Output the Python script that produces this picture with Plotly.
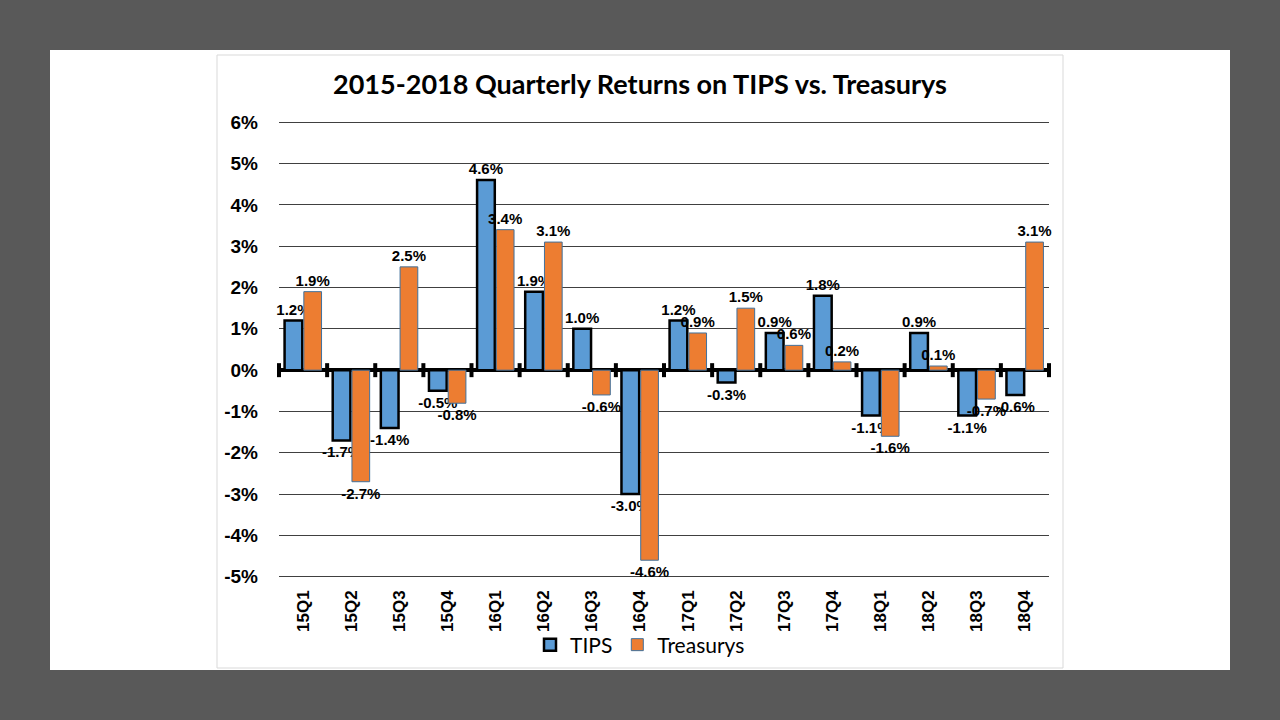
import plotly.graph_objects as go

quarters = ['15Q1', '15Q2', '15Q3', '15Q4', '16Q1', '16Q2', '16Q3', '16Q4',
            '17Q1', '17Q2', '17Q3', '17Q4', '18Q1', '18Q2', '18Q3', '18Q4']
tips = [1.2, -1.7, -1.4, -0.5, 4.6, 1.9, 1.0, -3.0,
        1.2, -0.3, 0.9, 1.8, -1.1, 0.9, -1.1, -0.6]
treasurys = [1.9, -2.7, 2.5, -0.8, 3.4, 3.1, -0.6, -4.6,
             0.9, 1.5, 0.6, 0.2, -1.6, 0.1, -0.7, 3.1]
yticks = [-5, -4, -3, -2, -1, 0, 1, 2, 3, 4, 5, 6]

W, H = 1280, 720
xpos = list(range(len(quarters)))

def px(x):
    return x / W

def py(y):
    return 1 - y / H

label_font = dict(family='Liberation Sans', size=15, color='black', weight='bold')

fig = go.Figure()
fig.add_trace(go.Bar(
    x=xpos, y=tips, name='TIPS',
    marker=dict(color='#5B9BD5', line=dict(color='black', width=2.5)),
    texttemplate='%{y:.1f}%', textposition='outside', textfont=label_font,
    cliponaxis=False, constraintext='none',
))
fig.add_trace(go.Bar(
    x=xpos, y=treasurys, name='Treasurys',
    marker=dict(color='#ED7D31', line=dict(color='#41719C', width=1)),
    texttemplate='%{y:.1f}%', textposition='outside', textfont=label_font,
    cliponaxis=False, constraintext='none',
))
# tick marks on the zero line at category boundaries
bounds = [i - 0.5 for i in range(len(quarters) + 1)]
fig.add_trace(go.Scatter(
    x=bounds, y=[0] * len(bounds), mode='markers', showlegend=False,
    marker=dict(symbol='line-ns', size=10, line=dict(color='black', width=4)),
    hoverinfo='skip', cliponaxis=False,
))

fig.update_layout(
    width=W, height=H,
    margin=dict(l=0, r=0, t=0, b=0, autoexpand=False),
    paper_bgcolor='#595959',
    plot_bgcolor='rgba(0,0,0,0)',
    barmode='group', bargap=0.2, bargroupgap=0.08,
    font=dict(family='Liberation Sans', color='black'),
    title=dict(text='<b>2015-2018 Quarterly Returns on TIPS vs. Treasurys</b>',
               x=0.5, xanchor='center', y=py(85), yanchor='middle',
               font=dict(family='Lato', size=27, color='black')),
    legend=dict(orientation='h', x=0.5, xanchor='center', y=py(645), yanchor='middle',
                font=dict(family='Lato', size=21, color='black'),
                itemwidth=30, bgcolor='rgba(0,0,0,0)', traceorder='normal'),
    shapes=[
        dict(type='rect', xref='paper', yref='paper', x0=px(50), x1=px(1230),
             y0=py(670), y1=py(50), fillcolor='white', line=dict(width=0), layer='below'),
        dict(type='rect', xref='paper', yref='paper', x0=px(217), x1=px(1063),
             y0=py(668), y1=py(55), fillcolor='white', line=dict(color='#D9D9D9', width=1),
             layer='below'),
    ],
)
fig.update_xaxes(
    domain=[px(279), px(1049)], range=[-0.5, len(quarters) - 0.5],
    tickvals=xpos, ticktext=quarters, tickangle=-90, automargin=False,
    showgrid=False, zeroline=False, showline=False, ticks='',
    tickfont=dict(size=17, color='black', weight='bold'), ticklabelstandoff=8,
)
fig.update_yaxes(
    domain=[py(578), py(121)], range=[-5.03, 6.03], automargin=False,
    tickvals=yticks, ticktext=[f'{v}%' for v in yticks],
    showgrid=True, gridcolor='#404040', gridwidth=1,
    zeroline=True, zerolinecolor='black', zerolinewidth=4,
    showline=False, ticks='',
    tickfont=dict(size=19, color='black', weight='bold'), ticklabelstandoff=20,
)

fig.write_html('out.html', config={'displayModeBar': False},
               post_script="document.body.style.margin='0';")
